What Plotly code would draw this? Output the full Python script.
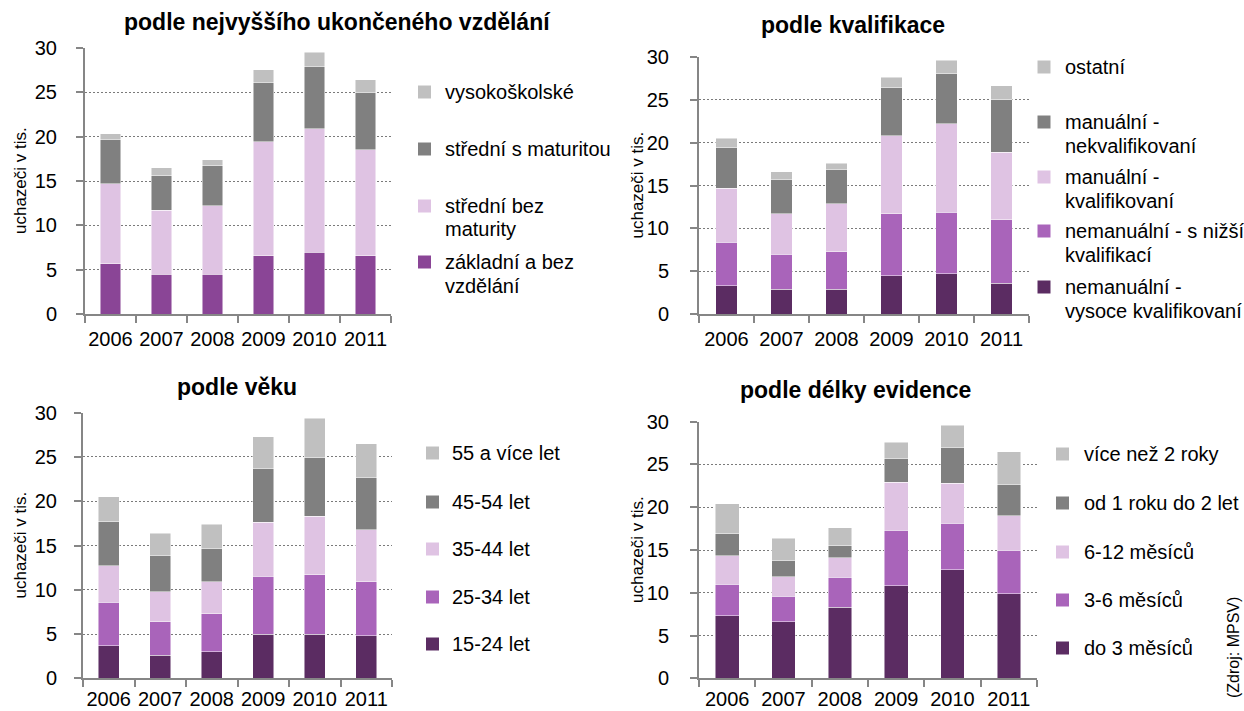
import plotly.graph_objects as go

W, H = 1244, 711

years = ["2006", "2007", "2008", "2009", "2010", "2011"]

# Panel 1: podle nejvyššího ukončeného vzdělání
zakladni = [5.7, 4.5, 4.5, 6.6, 7.0, 6.6]
stredni_bez = [9.0, 7.2, 7.7, 12.8, 13.9, 11.9]
stredni_s = [5.0, 3.9, 4.5, 6.7, 7.0, 6.5]
vysokoskolske = [0.6, 0.9, 0.7, 1.4, 1.6, 1.4]

# Panel 2: podle kvalifikace
nem_vysoce = [3.3, 2.9, 2.9, 4.5, 4.7, 3.6]
nem_nizsi = [5.1, 4.1, 4.4, 7.2, 7.2, 7.4]
man_kval = [6.3, 4.7, 5.6, 9.1, 10.3, 7.9]
man_nekval = [4.7, 4.0, 4.0, 5.6, 5.8, 6.1]
ostatni = [1.1, 0.9, 0.7, 1.2, 1.6, 1.6]

# Panel 3: podle věku
v15_24 = [3.7, 2.6, 3.0, 5.0, 5.0, 4.8]
v25_34 = [4.9, 3.8, 4.3, 6.5, 6.7, 6.1]
v35_44 = [4.1, 3.4, 3.6, 6.1, 6.6, 5.9]
v45_54 = [5.0, 4.1, 3.8, 6.1, 6.6, 5.9]
v55 = [2.8, 2.5, 2.7, 3.6, 4.5, 3.8]

# Panel 4: podle délky evidence
do3 = [7.3, 6.6, 8.3, 10.8, 12.7, 9.9]
m3_6 = [3.7, 3.0, 3.5, 6.5, 5.4, 5.1]
m6_12 = [3.3, 2.3, 2.3, 5.6, 4.7, 4.0]
r1_2 = [2.6, 1.9, 1.4, 2.8, 4.2, 3.7]
nad2 = [3.5, 2.6, 2.1, 1.9, 2.6, 3.8]

titles = ["podle nejvyššího ukončeného vzdělání", "podle kvalifikace",
          "podle věku", "podle délky evidence"]
y_title = "uchazeči v tis."
source = "(Zdroj: MPSV)"

DARK = "#5B2C62"
MED = "#A964BA"
BASE1 = "#8A4596"
LAV = "#DFC3E3"
DGREY = "#808080"
LGREY = "#C0C0C0"
AXC = "#868686"
GRIDC = "#7A7A7A"
FONT = "Liberation Sans, Arial, sans-serif"

panels = [
    dict(series=[("základní a bez<br>vzdělání", zakladni, BASE1),
                 ("střední bez<br>maturity", stredni_bez, LAV),
                 ("střední s maturitou", stredni_s, DGREY),
                 ("vysokoškolské", vysokoskolske, LGREY)],
         xpx=(85, 391), ypx=(314.3, 47.7), width=0.41, standoff=15, xstand=6,
         title_pos=(337, 22), ytitle_x=20,
         leg_sq_x=424.5, leg_tx=443, leg_y=[262, 206, 149, 92]),
    dict(series=[("nemanuální -<br>vysoce kvalifikovaní", nem_vysoce, DARK),
                 ("nemanuální - s nižší<br>kvalifikací", nem_nizsi, MED),
                 ("manuální -<br>kvalifikovaní", man_kval, LAV),
                 ("manuální -<br>nekvalifikovaní", man_nekval, DGREY),
                 ("ostatní", ostatni, LGREY)],
         xpx=(699, 1029), ypx=(314.3, 56.7), width=0.39, standoff=17, xstand=6,
         title_pos=(853, 25), ytitle_x=637,
         leg_sq_x=1044, leg_tx=1063, leg_y=[287, 231, 177, 122, 67]),
    dict(series=[("15-24 let", v15_24, DARK),
                 ("25-34 let", v25_34, MED),
                 ("35-44 let", v35_44, LAV),
                 ("45-54 let", v45_54, DGREY),
                 ("55 a více let", v55, LGREY)],
         xpx=(83, 392), ypx=(678.3, 412.7), width=0.40, standoff=13, xstand=2,
         title_pos=(237, 387), ytitle_x=20,
         leg_sq_x=432.5, leg_tx=450, leg_y=[644, 597, 549, 502, 453]),
    dict(series=[("do 3 měsíců", do3, DARK),
                 ("3-6 měsíců", m3_6, MED),
                 ("6-12 měsíců", m6_12, LAV),
                 ("od 1 roku do 2 let", r1_2, DGREY),
                 ("více než 2 roky", nad2, LGREY)],
         xpx=(699, 1037), ypx=(678.3, 421.7), width=0.42, standoff=17, xstand=2,
         title_pos=(855, 390), ytitle_x=637,
         leg_sq_x=1062.5, leg_tx=1082, leg_y=[648, 600, 552, 503, 454]),
]

fig = go.Figure()
annotations = []
shapes = []
layout_axes = {}

for i, p in enumerate(panels):
    n = i + 1
    xa = "x" if n == 1 else f"x{n}"
    ya = "y" if n == 1 else f"y{n}"
    for name, vals, col in p["series"]:
        fig.add_trace(go.Bar(
            x=years, y=vals, name=name.replace("<br>", " "),
            marker=dict(color=col, line=dict(color="rgba(255,255,255,0.8)", width=0.6)),
            width=p["width"], xaxis=xa, yaxis=ya, showlegend=False,
        ))
    x0, x1 = p["xpx"]
    yb, yt = p["ypx"]
    layout_axes["xaxis" if n == 1 else f"xaxis{n}"] = dict(
        domain=[x0 / W, x1 / W], anchor=ya, type="category",
        range=[-0.5, 5.5], showgrid=False, showline=True, linecolor=AXC,
        linewidth=2, ticks="outside", tickson="boundaries", ticklen=7,
        tickwidth=2, tickcolor=AXC, tickangle=0,
        tickfont=dict(size=20, color="#000", family=FONT),
        ticklabelstandoff=p["xstand"], zeroline=False, fixedrange=True,
        automargin=False,
    )
    layout_axes["yaxis" if n == 1 else f"yaxis{n}"] = dict(
        domain=[1 - yb / H, 1 - yt / H], anchor=xa, range=[0, 30], dtick=5,
        tick0=0, showgrid=True, gridcolor=GRIDC, griddash="2px,2px", gridwidth=1,
        showline=True, linecolor=AXC, linewidth=2, ticks="outside", ticklen=7,
        tickwidth=2, tickcolor=AXC, tickfont=dict(size=20, color="#000", family=FONT),
        ticklabelstandoff=p["standoff"], zeroline=False, fixedrange=True,
        automargin=False,
    )
    # y-axis title
    annotations.append(dict(
        text=y_title, x=p["ytitle_x"] / W, y=1 - ((yb + yt) / 2) / H,
        xref="paper", yref="paper", xanchor="center", yanchor="middle",
        textangle=-90, showarrow=False,
        font=dict(size=17, color="#000", family=FONT)))
    tx, ty = p["title_pos"]
    annotations.append(dict(
        text=f"<b>{titles[i]}</b>", x=tx / W, y=1 - ty / H, xref="paper",
        yref="paper", xanchor="center", yanchor="middle", showarrow=False,
        font=dict(size=23, color="#000", family=FONT)))
    # legend
    for (name, vals, col), ly in zip(p["series"], p["leg_y"]):
        sq = 6.5
        cx = p["leg_sq_x"]
        shapes.append(dict(type="rect", xref="paper", yref="paper",
                           x0=(cx - sq) / W, x1=(cx + sq) / W,
                           y0=1 - (ly + sq) / H, y1=1 - (ly - sq) / H,
                           fillcolor=col, line=dict(width=0)))
        for k, line in enumerate(name.split("<br>")):
            annotations.append(dict(
                text=line, x=p["leg_tx"] / W, y=1 - (ly + k * 23.5) / H,
                xref="paper", yref="paper", xanchor="left", yanchor="middle",
                showarrow=False, font=dict(size=20, color="#000", family=FONT)))

annotations.append(dict(
    text=source, x=1233 / W, y=1 - 648 / H, xref="paper", yref="paper",
    xanchor="center", yanchor="middle", textangle=-90, showarrow=False,
    font=dict(size=16, color="#000", family=FONT)))

fig.update_layout(
    width=W, height=H, margin=dict(l=0, r=0, t=0, b=0, autoexpand=False),
    paper_bgcolor="white", plot_bgcolor="white", barmode="stack",
    showlegend=False, annotations=annotations, shapes=shapes,
    font=dict(family=FONT, color="#000"), **layout_axes,
)

fig.write_html(
    "out.html",
    config={"displayModeBar": False, "staticPlot": True},
    post_script="document.body.style.margin='0';document.body.style.padding='0';"
                "document.body.style.overflow='hidden';"
                "document.documentElement.style.overflow='hidden';",
)
